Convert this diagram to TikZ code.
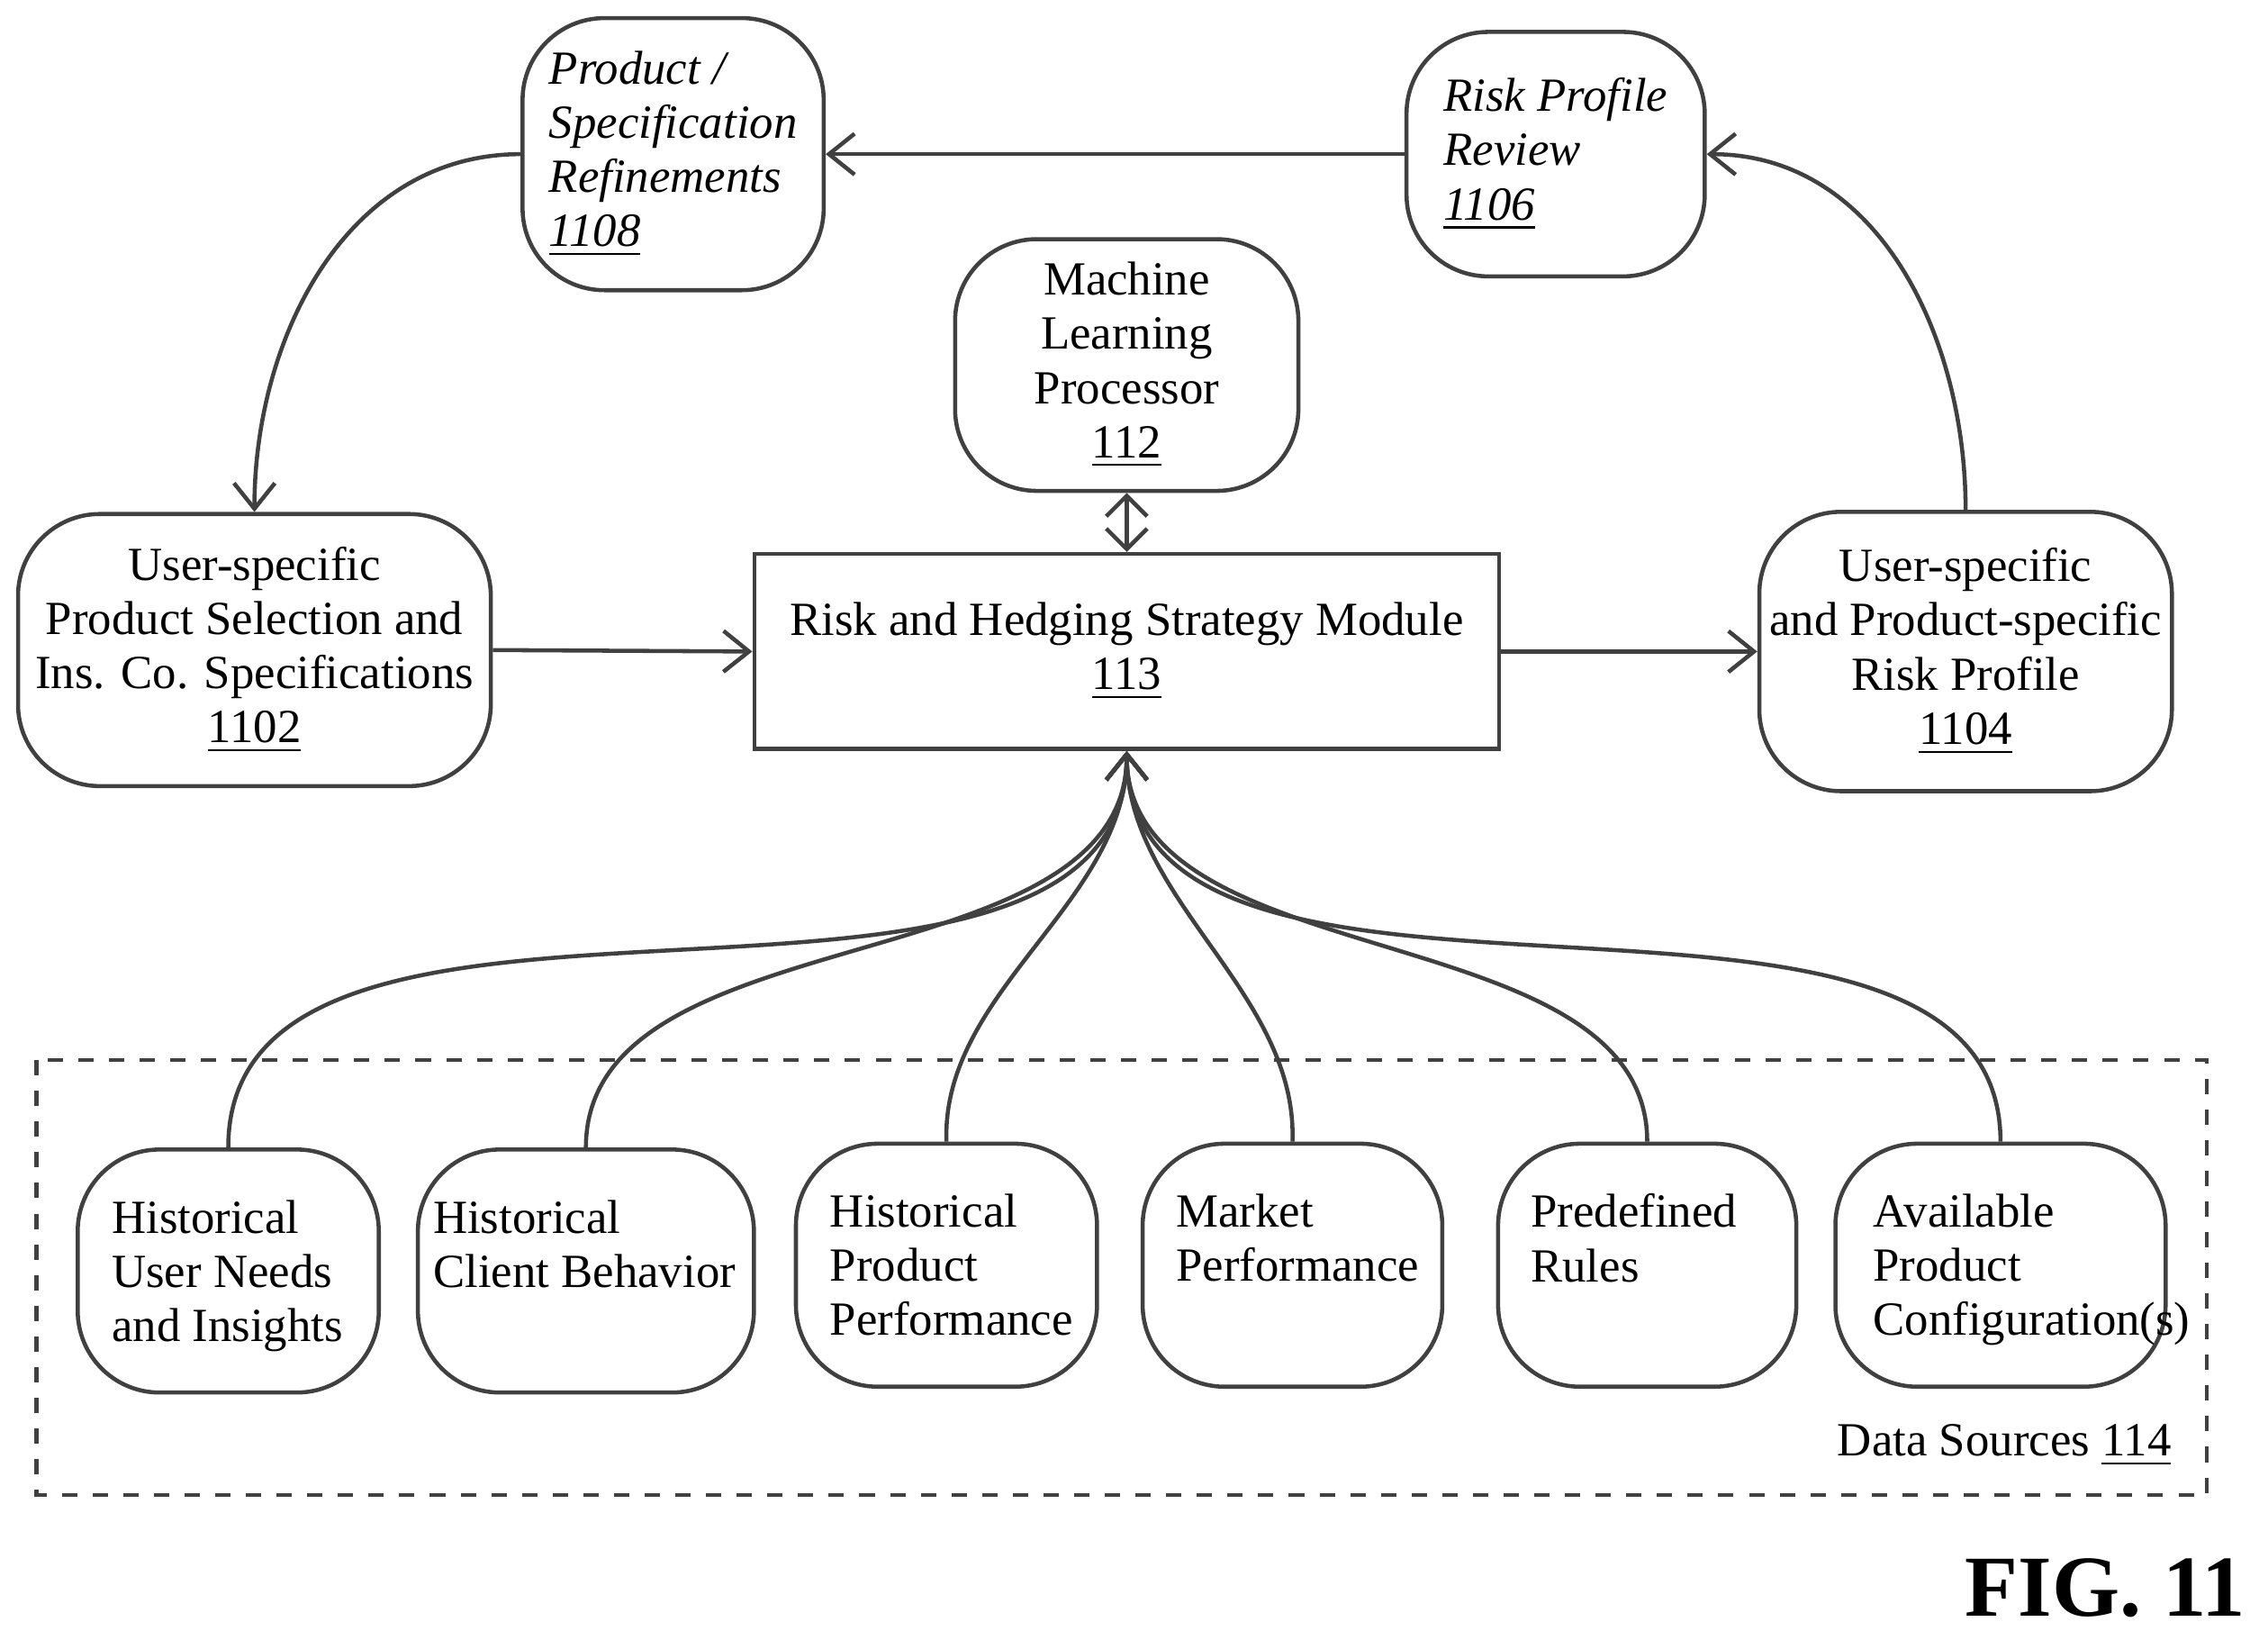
\documentclass[tikz,border=0pt]{standalone}
\usepackage{fontspec}
\setmainfont{Liberation Serif}
\usetikzlibrary{arrows.meta}
\tikzset{
  box/.style={rectangle, rounded corners=16pt, draw=black!75, thick, align=center, inner sep=2pt},
  src/.style={box, minimum height=1.67cm, align=flush left, text depth=0.75cm},
  arrow/.style={draw=black!75, thick, -{Straight Barb[length=5pt,width=8pt]}},
}
\begin{document}
\fontsize{9.3}{10.6}\selectfont
\begin{tikzpicture}[x=0.01cm,y=-0.01cm]
\useasboundingbox (0,0) rectangle (1560,1121);
\node[box, minimum width=2.07cm, minimum height=1.87cm, align=flush left, font=\itshape] (ref) at (463,106) {Product /\\Specification\\Refinements\\\underline{1108}};
\node[box, minimum width=2.05cm, minimum height=1.68cm, align=flush left, font=\itshape] (rev) at (1070,106) {Risk Profile\\Review\\\underline{1106}};
\node[box, minimum width=2.36cm, minimum height=1.73cm] (ml) at (775,251) {Machine\\Learning\\Processor\\\underline{112}};
\node[box, minimum width=3.25cm, minimum height=1.87cm] (sel) at (175,447) {User-specific\\Product Selection and\\Ins. Co. Specifications\\\underline{1102}};
\node[rectangle, draw=black!75, thick, minimum width=5.12cm, minimum height=1.34cm, align=center] (rhs) at (775,448) {Risk and Hedging Strategy Module\\\underline{113}};
\node[box, minimum width=2.76cm, minimum height=1.92cm] (prof) at (1352,448) {User-specific\\and Product-specific\\Risk Profile\\\underline{1104}};
% data sources
\draw[black!75, thick, dashed] (25,729) rectangle (1518,1028);
\node[anchor=south east] (dsl) at (1505,1020) {Data Sources \underline{114}};
\node[src, minimum width=2.07cm, text width=1.6cm] (d1) at (157,874) {Historical\\User Needs\\and Insights};
\node[src, minimum width=2.31cm, text width=2.1cm] (d2) at (403,874) {Historical\\Client Behavior\\~};
\node[src, minimum width=2.07cm, text width=1.6cm] (d3) at (651,870) {Historical\\Product\\Performance};
\node[src, minimum width=2.06cm, text width=1.6cm] (d4) at (889,870) {Market\\Performance\\~};
\node[src, minimum width=2.05cm, text width=1.6cm] (d5) at (1133,870) {Predefined\\Rules\\~};
\node[src, minimum width=2.27cm, text width=1.75cm] (d6) at (1376,870) {Available\\Product\\Configuration(s)};
% connectors
\draw[arrow] (rev.west) -- (ref.east);
\draw[arrow] (ref.west) to[out=180, in=90] (sel.north);
\draw[arrow] (prof.north) to[out=90, in=0] (rev.east);
\draw[arrow] (sel.east) -- (rhs.west);
\draw[arrow] (rhs.east) -- (prof.west);
\draw[arrow, {Straight Barb[length=4pt,width=8pt]}-{Straight Barb[length=4pt,width=8pt]}] (ml.south) -- (rhs.north);
\foreach \d/\o in {d1/90, d2/90, d3/92, d4/88, d5/90, d6/90}{
  \draw[arrow] (\d.north) to[out=\o, in=-90, looseness=0.9] (rhs.south);
}
\node[anchor=east, font=\bfseries\fontsize{17}{17}\selectfont] (fig) at (1556,1092) {FIG. 11};
\end{tikzpicture}
\end{document}
